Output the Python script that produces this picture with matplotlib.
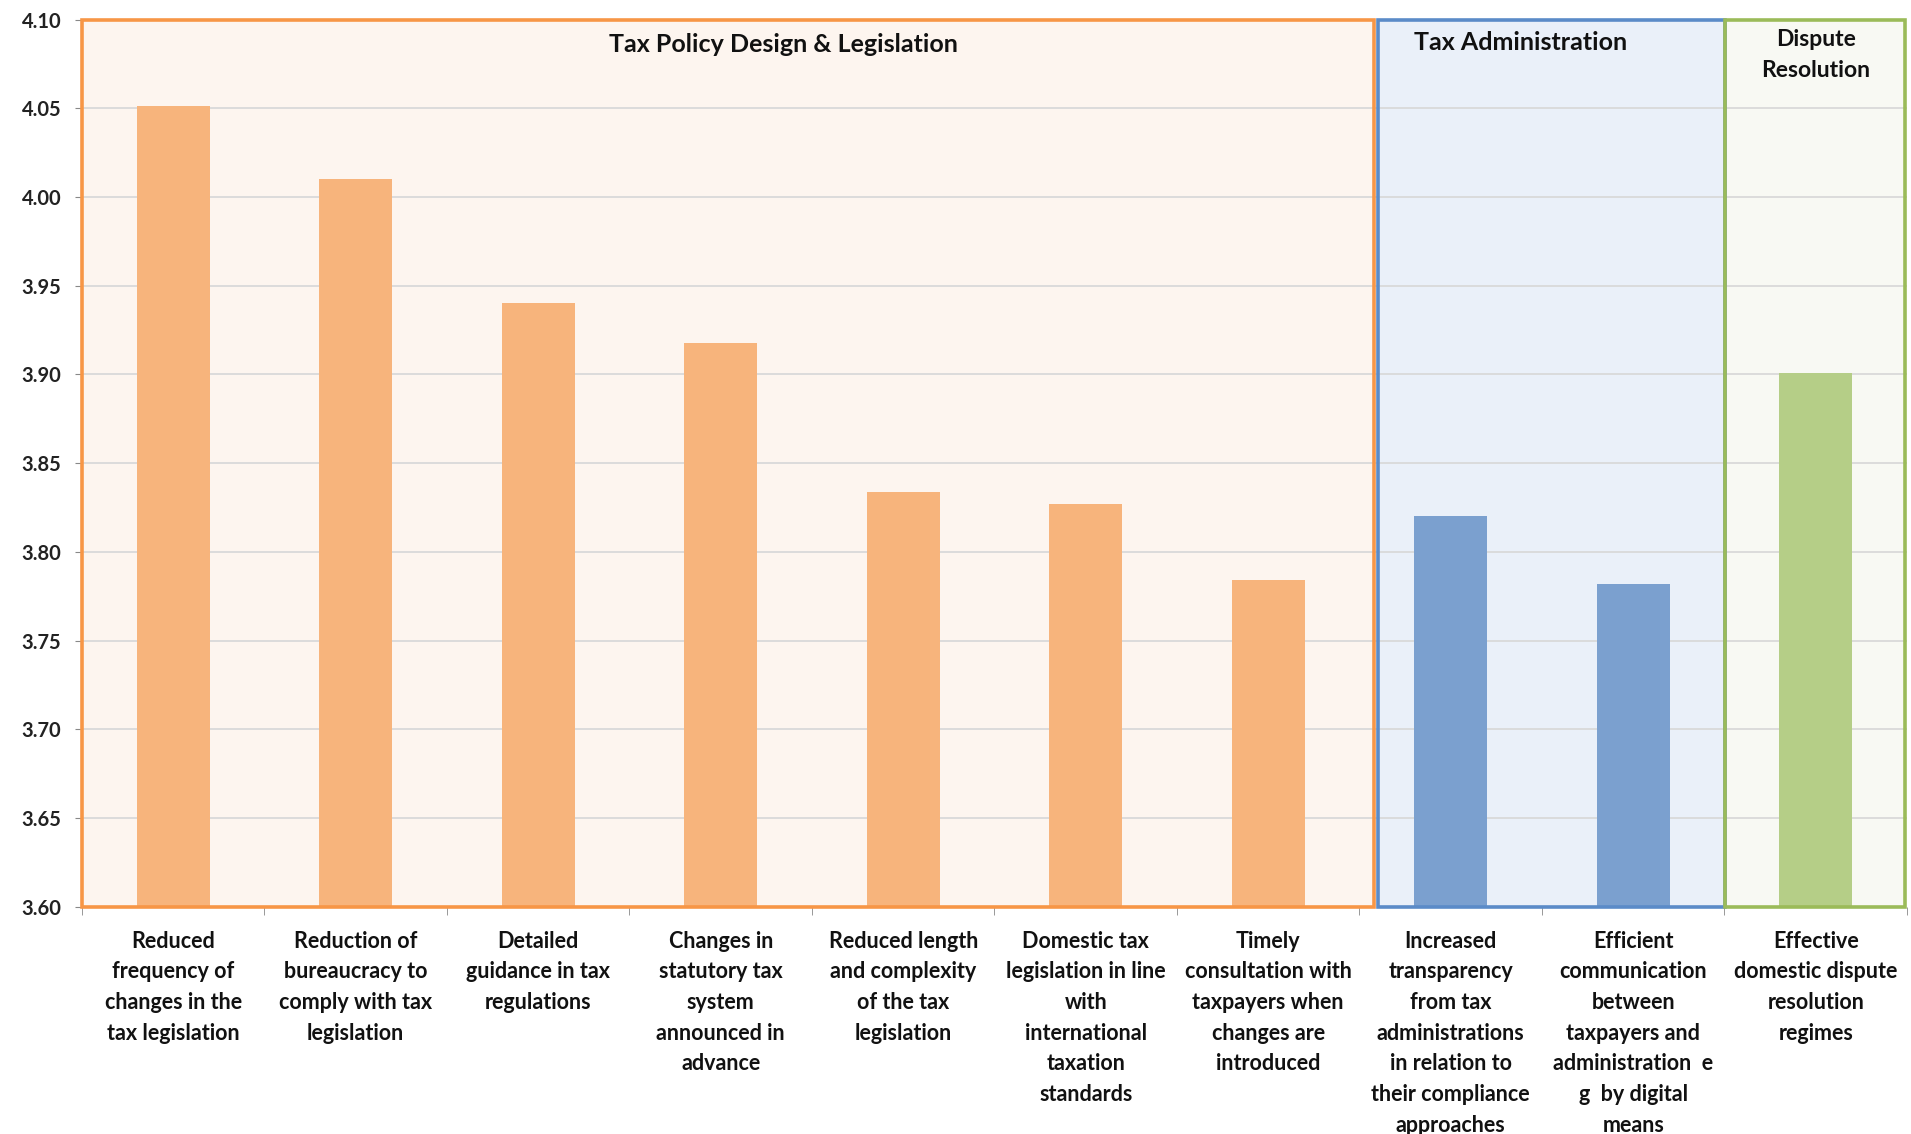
import matplotlib
matplotlib.use("Agg")
import matplotlib.pyplot as plt
from matplotlib.patches import Rectangle
from matplotlib.ticker import FixedLocator

categories = [
    "Reduced\nfrequency of\nchanges in the\ntax legislation",
    "Reduction of\nbureaucracy to\ncomply with tax\nlegislation",
    "Detailed\nguidance in tax\nregulations",
    "Changes in\nstatutory tax\nsystem\nannounced in\nadvance",
    "Reduced length\nand complexity\nof the tax\nlegislation",
    "Domestic tax\nlegislation in line\nwith\ninternational\ntaxation\nstandards",
    "Timely\nconsultation with\ntaxpayers when\nchanges are\nintroduced",
    "Increased\ntransparency\nfrom tax\nadministrations\nin relation to\ntheir compliance\napproaches",
    "Efficient\ncommunication\nbetween\ntaxpayers and\nadministration  e\ng  by digital\nmeans",
    "Effective\ndomestic dispute\nresolution\nregimes",
]
values = [4.051, 4.010, 3.940, 3.918, 3.834, 3.827, 3.784, 3.820, 3.782, 3.901]
groups = ["policy"] * 7 + ["admin"] * 2 + ["dispute"]
group_titles = ["Tax Policy Design & Legislation", "Tax Administration", "Dispute\nResolution"]
y_ticks = [3.60, 3.65, 3.70, 3.75, 3.80, 3.85, 3.90, 3.95, 4.00, 4.05, 4.10]

bar_colors = {"policy": "#F7B47C", "admin": "#7BA0CF", "dispute": "#B5CE87"}
edge_colors = {"policy": "#F79646", "admin": "#5B8BC8", "dispute": "#9BBB59"}
bg_colors = {"policy": "#FDF5EF", "admin": "#EAF0F9", "dispute": "#F8F9F3"}

plt.rcParams['font.family'] = ['Lato', 'DejaVu Sans']

fig = plt.figure(figsize=(19.11, 11.34), dpi=100)
ax = fig.add_axes([0.0429, 0.2002, 0.955, 0.7826])

ymin, ymax = 3.60, 4.10
ax.set_xlim(-0.5, 9.5)
ax.set_ylim(ymin, ymax)

# group background boxes
boxes = [("policy", -0.5, 6.58), ("admin", 6.60, 8.505), ("dispute", 8.505, 9.49)]
for g, x0, x1 in boxes:
    ax.add_patch(Rectangle((x0, ymin), x1 - x0, ymax - ymin, facecolor=bg_colors[g],
                           edgecolor="none", zorder=0))

for y in y_ticks[1:-1]:
    ax.axhline(y, color="#D9D9D9", lw=1.3, zorder=1)

xs = list(range(len(values)))
ax.bar(xs, [v - ymin for v in values], bottom=ymin, width=0.4,
       color=[bar_colors[g] for g in groups], zorder=2)

for g, x0, x1 in boxes:
    ax.add_patch(Rectangle((x0, ymin), x1 - x0, ymax - ymin, facecolor="none",
                           edgecolor=edge_colors[g], lw=2.6, zorder=3, clip_on=False))

for s in ax.spines.values():
    s.set_visible(False)

ax.set_yticks(y_ticks)
ax.set_yticklabels([f"{v:.2f}" for v in y_ticks], fontsize=14.5, fontweight="bold", color="#222222")
ax.tick_params(axis="y", length=5, color="#888888", pad=10)

ax.set_xticks(xs)
ax.set_xticklabels(categories, fontsize=15.5, fontweight="bold", color="#111111", linespacing=1.57)
ax.tick_params(axis="x", which="major", length=0, pad=17)
ax.xaxis.set_minor_locator(FixedLocator([i + 0.5 for i in range(-1, 10)]))
ax.tick_params(axis="x", which="minor", length=6, color="#888888")

ax.text(3.345, 4.086, group_titles[0], ha="center", va="center", fontsize=18,
        fontweight="bold", color="#111111", zorder=4)
ax.text(7.384, 4.087, group_titles[1], ha="center", va="center", fontsize=18,
        fontweight="bold", color="#111111", zorder=4)
ax.text(9.0, 4.080, group_titles[2], ha="center", va="center", fontsize=16.5,
        fontweight="bold", color="#111111", linespacing=1.55, zorder=4)

fig.savefig("out.png", dpi=100, facecolor="white")
